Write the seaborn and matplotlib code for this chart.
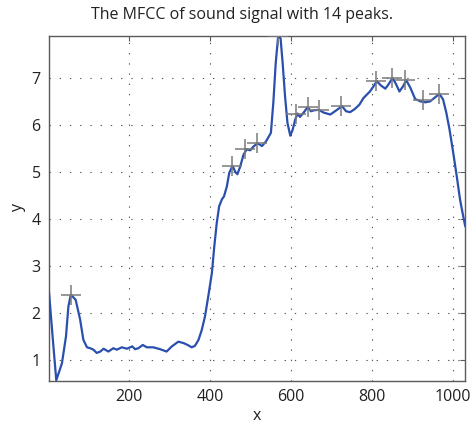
import matplotlib
matplotlib.use("Agg")
import matplotlib.pyplot as plt
import seaborn as sns
import pandas as pd

# ---- data ----
x_vals = [1, 10, 19, 33, 43, 49, 55, 67, 78, 86, 95, 103, 111, 119, 128, 136, 148,
          160, 169, 181, 194, 207, 214, 222, 233, 243, 259, 276, 292, 305, 321, 334,
          344, 354, 362, 371, 379, 387, 395, 404, 410, 416, 422, 429, 434, 441, 447,
          455, 462, 467, 474, 482, 490, 499, 507, 517, 528, 538, 550, 556, 562, 568,
          574, 579, 585, 591, 598, 604, 610, 616, 622, 631, 641, 649, 657, 668, 681,
          697, 712, 726, 736, 746, 758, 769, 779, 787, 795, 804, 812, 822, 833, 841,
          851, 860, 868, 877, 885, 895, 907, 920, 932, 944, 957, 967, 976, 984, 992,
          1000, 1010, 1018, 1026, 1031]
y_vals = [2.45, 1.50, 0.58, 0.94, 1.51, 2.15, 2.40, 2.29, 1.87, 1.44, 1.28, 1.26, 1.23,
          1.16, 1.19, 1.25, 1.19, 1.26, 1.23, 1.28, 1.25, 1.30, 1.24, 1.26, 1.33, 1.28,
          1.28, 1.24, 1.19, 1.30, 1.40, 1.37, 1.33, 1.28, 1.31, 1.44, 1.65, 1.94, 2.36,
          2.86, 3.43, 3.92, 4.28, 4.43, 4.49, 4.70, 4.99, 5.14, 5.01, 4.96, 5.12, 5.37,
          5.49, 5.47, 5.55, 5.62, 5.56, 5.66, 5.84, 6.48, 7.33, 7.90, 7.85, 7.33, 6.62,
          6.05, 5.78, 5.91, 6.12, 6.25, 6.18, 6.27, 6.39, 6.30, 6.32, 6.33, 6.27, 6.23,
          6.32, 6.41, 6.30, 6.28, 6.35, 6.44, 6.58, 6.65, 6.72, 6.83, 6.94, 6.85, 6.78,
          6.87, 7.01, 6.87, 6.72, 6.83, 6.96, 6.80, 6.56, 6.51, 6.49, 6.51, 6.60, 6.67,
          6.55, 6.27, 5.91, 5.48, 4.91, 4.42, 4.06, 3.85]

peak_x = [55, 454, 487, 516, 568, 612, 642, 670, 724, 811, 850, 883, 926, 965]
peak_y = [2.40, 5.14, 5.50, 5.62, 7.90, 6.25, 6.40, 6.33, 6.41, 6.94, 7.01, 6.96, 6.53, 6.67]

x_ticks = [200, 400, 600, 800, 1000]
y_ticks = [1, 2, 3, 4, 5, 6, 7]

title = "The MFCC of sound signal with 14 peaks."

# ---- plotting ----
sns.set_style("white")
plt.rcParams["font.family"] = ["Open Sans", "DejaVu Sans"]

fig = plt.figure(figsize=(4.7, 4.3), dpi=100)
ax = fig.add_axes([49 / 470, 1 - 380.7 / 430, (465.3 - 49) / 470, (380.7 - 36) / 430])

curve = pd.DataFrame({"x": x_vals, "y": y_vals})
peaks = pd.DataFrame({"x": peak_x, "y": peak_y})

ax.set_xlim(1, 1031)
ax.set_ylim(0.57, 7.9)
ax.set_xticks(x_ticks)
ax.set_yticks(y_ticks)

grid_kw = dict(color="#555555", linewidth=0.8, linestyle=(0, (1.2, 8)))
ax.grid(True, **grid_kw)
ax.set_axisbelow(True)

sns.lineplot(data=curve, x="x", y="y", ax=ax, color="#2a4fae", linewidth=1.6,
             zorder=3, sort=False)
sns.scatterplot(data=peaks, x="x", y="y", ax=ax, marker="+", s=190,
                color="#7a7a7a", linewidth=1.1, zorder=4)

for sp in ax.spines.values():
    sp.set_color("#5a5a5a")
    sp.set_linewidth(1.0)

ax.tick_params(direction="in", length=3.6, width=0.8, colors="#5a5a5a",
               top=True, right=True, labelsize=11.5, labelcolor="#222222", pad=6)

ax.set_xlabel("x", fontsize=11.5, color="#222222", labelpad=2)
ax.set_ylabel("y", fontsize=11.5, color="#222222", labelpad=4)
fig.text(242 / 470, 1 - 15 / 430, title, ha="center", va="center",
         fontsize=11.5, color="#222222")

fig.savefig("out.png", dpi=100)
